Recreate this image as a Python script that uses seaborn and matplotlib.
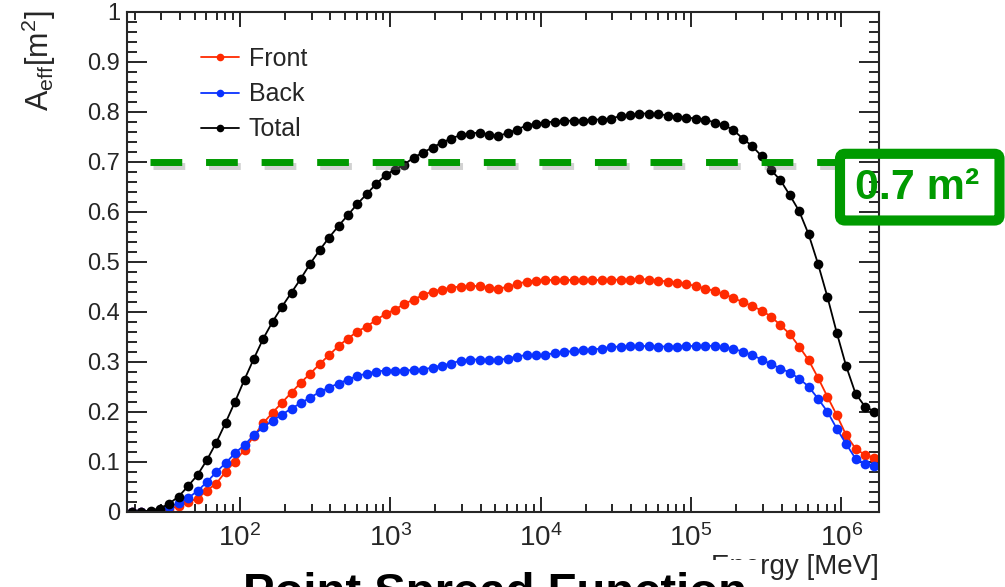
import numpy as np
import pandas as pd
import matplotlib
matplotlib.use("Agg")
import matplotlib.pyplot as plt
import matplotlib.patheffects as pe
from matplotlib.patches import FancyBboxPatch
from matplotlib.lines import Line2D
from matplotlib.ticker import MultipleLocator, LogLocator, NullFormatter
from matplotlib.transforms import IdentityTransform
import seaborn as sns

sns.set_style("ticks")
plt.rcParams["font.family"] = ["Liberation Sans", "DejaVu Sans"]
plt.rcParams["mathtext.fontset"] = "custom"
plt.rcParams["mathtext.rm"] = "Liberation Sans"
plt.rcParams["mathtext.it"] = "Liberation Sans"
plt.rcParams["mathtext.bf"] = "Liberation Sans:bold"
plt.rcParams["mathtext.default"] = "regular"

# bin centres, log10(E / MeV)
log_energy = [1.2813, 1.3438, 1.4063, 1.4688, 1.5313, 1.5938, 1.6563, 1.7188, 1.7813, 1.8438,
              1.9063, 1.9688, 2.0313, 2.0938, 2.1563, 2.2188, 2.2813, 2.3438, 2.4063, 2.4688,
              2.5313, 2.5938, 2.6563, 2.7188, 2.7813, 2.8438, 2.9063, 2.9688, 3.0313, 3.0938,
              3.1563, 3.2188, 3.2813, 3.3438, 3.4063, 3.4688, 3.5313, 3.5938, 3.6563, 3.7188,
              3.7813, 3.8438, 3.9063, 3.9688, 4.0313, 4.0938, 4.1563, 4.2188, 4.2813, 4.3438,
              4.4063, 4.4688, 4.5313, 4.5938, 4.6563, 4.7188, 4.7813, 4.8438, 4.9063, 4.9688,
              5.0313, 5.0938, 5.1563, 5.2188, 5.2813, 5.3438, 5.4063, 5.4688, 5.5313, 5.5938,
              5.6563, 5.7188, 5.7813, 5.8438, 5.9063, 5.9688, 6.0313, 6.0938, 6.1563, 6.2188]

front = [0.000, 0.000, 0.000, 0.003, 0.007, 0.012, 0.020, 0.027, 0.043, 0.057,
         0.081, 0.101, 0.125, 0.152, 0.178, 0.199, 0.219, 0.239, 0.259, 0.277,
         0.296, 0.314, 0.332, 0.347, 0.361, 0.371, 0.384, 0.396, 0.405, 0.416,
         0.425, 0.434, 0.441, 0.445, 0.449, 0.451, 0.452, 0.452, 0.449, 0.447,
         0.450, 0.456, 0.461, 0.463, 0.464, 0.464, 0.464, 0.464, 0.464, 0.464,
         0.464, 0.464, 0.465, 0.465, 0.466, 0.465, 0.463, 0.461, 0.459, 0.456,
         0.452, 0.447, 0.442, 0.436, 0.428, 0.420, 0.412, 0.403, 0.391, 0.374,
         0.356, 0.331, 0.304, 0.269, 0.231, 0.194, 0.154, 0.127, 0.114, 0.109]

back = [0.000, 0.000, 0.001, 0.004, 0.010, 0.018, 0.028, 0.042, 0.060, 0.080,
        0.098, 0.118, 0.134, 0.154, 0.170, 0.183, 0.195, 0.207, 0.218, 0.229,
        0.240, 0.249, 0.257, 0.265, 0.272, 0.277, 0.281, 0.283, 0.283, 0.283,
        0.284, 0.285, 0.289, 0.293, 0.297, 0.303, 0.305, 0.305, 0.304, 0.304,
        0.307, 0.311, 0.314, 0.314, 0.314, 0.318, 0.320, 0.322, 0.324, 0.325,
        0.327, 0.330, 0.331, 0.332, 0.332, 0.332, 0.331, 0.331, 0.331, 0.332,
        0.332, 0.333, 0.332, 0.330, 0.326, 0.321, 0.314, 0.305, 0.296, 0.287,
        0.279, 0.267, 0.251, 0.227, 0.201, 0.167, 0.136, 0.107, 0.096, 0.093]

total = [0.000, 0.001, 0.003, 0.007, 0.017, 0.031, 0.052, 0.074, 0.104, 0.139,
         0.179, 0.221, 0.265, 0.307, 0.347, 0.381, 0.411, 0.439, 0.467, 0.497,
         0.524, 0.549, 0.572, 0.594, 0.616, 0.636, 0.656, 0.674, 0.685, 0.695,
         0.709, 0.719, 0.729, 0.739, 0.747, 0.754, 0.757, 0.759, 0.755, 0.752,
         0.758, 0.765, 0.773, 0.777, 0.779, 0.781, 0.782, 0.783, 0.783, 0.785,
         0.785, 0.787, 0.792, 0.794, 0.797, 0.797, 0.796, 0.793, 0.791, 0.789,
         0.787, 0.785, 0.779, 0.774, 0.764, 0.747, 0.732, 0.712, 0.684, 0.664,
         0.634, 0.602, 0.556, 0.497, 0.431, 0.359, 0.292, 0.237, 0.211, 0.201]

series_names = ["Front", "Back", "Total"]
colors = ["#ff2a00", "#0a32ff", "#000000"]
threshold = 0.7
threshold_label = "0.7 m²"

energy = 10 ** np.array(log_energy)
df = pd.concat([
    pd.DataFrame({"energy": energy, "aeff": vals, "series": name})
    for name, vals in zip(series_names, [front, back, total])
], ignore_index=True)

W, H = 1005, 587
fig = plt.figure(figsize=(W / 100, H / 100), dpi=100)
ax = fig.add_axes([127 / W, 1 - 512 / H, 752 / W, 500 / H])

sns.lineplot(data=df, x="energy", y="aeff", hue="series", hue_order=series_names,
             palette=colors, marker="o", markersize=7, markeredgewidth=0,
             linewidth=1.3, legend=False, ax=ax, sort=False, estimator=None)

ax.set_xscale("log")
ax.set_xlim(10 ** 1.25, 10 ** 6.25)
ax.set_ylim(0, 1)

# threshold line with a soft shadow
ax.axhline(threshold, xmin=0.0306, xmax=0.9455, color="#009a00", lw=5,
           linestyle=(0, (32 / 7, 24 / 7)), zorder=5,
           path_effects=[pe.SimpleLineShadow(offset=(2, -3), shadow_color="0.5", alpha=0.35),
                         pe.Normal()])

ax.yaxis.set_minor_locator(MultipleLocator(0.02))
ax.set_yticks(np.arange(0, 1.01, 0.1))
ax.set_yticklabels(["0", "0.1", "0.2", "0.3", "0.4", "0.5", "0.6", "0.7", "0.8", "0.9", "1"])
ax.xaxis.set_minor_locator(LogLocator(base=10, subs=np.arange(2, 10)))
ax.xaxis.set_minor_formatter(NullFormatter())

ax.tick_params(axis="both", which="both", direction="in", top=True, right=True, width=1.4)
ax.tick_params(axis="y", which="major", length=14.5, labelsize=17, pad=5)
ax.tick_params(axis="y", which="minor", length=7.5)
ax.tick_params(axis="x", which="major", length=10.5, labelsize=20, pad=9)
ax.tick_params(axis="x", which="minor", length=5.5)
for s in ax.spines.values():
    s.set_linewidth(1.5)

ax.set_ylabel("")
ax.set_xlabel("Energy [MeV]", fontsize=20)
ax.xaxis.set_label_coords(1.0, -0.083)
ax.xaxis.label.set_ha("right")
ax.xaxis.label.set_va("top")

fig.text(39 / W, 1 - 10 / H, r"$A_{eff}[m^{2}]$", rotation=90, ha="center", va="top",
         fontsize=22)

handles = [Line2D([], [], color=c, marker="o", markersize=5.5, markeredgewidth=0, lw=1.3)
           for c in colors]
fig.legend(handles, series_names, loc="upper left", bbox_to_anchor=(201 / W, 1 - 47 / H),
           frameon=False, fontsize=18, handlelength=1.5, handletextpad=0.4,
           labelspacing=0.45, borderpad=0, borderaxespad=0)

# highlighted threshold box
box = FancyBboxPatch((840, H - 220.5), 159.5, 66.7,
                     boxstyle="round,pad=0,rounding_size=5",
                     fc="none", ec="#009a00", lw=7.3, transform=IdentityTransform())
fig.add_artist(box)
fig.text(917 / W, 1 - 188 / H, threshold_label, color="#009a00", fontsize=31,
         fontweight="bold", ha="center", va="center")

# next slide heading, cut by the page edge
fig.text(243 / W, -19 / H, "Point Spread Function", fontsize=34, fontweight="bold",
         ha="left", va="baseline", color="black",
         bbox=dict(fc="white", ec="none", pad=8.5))

fig.savefig("out.png", dpi=100)
